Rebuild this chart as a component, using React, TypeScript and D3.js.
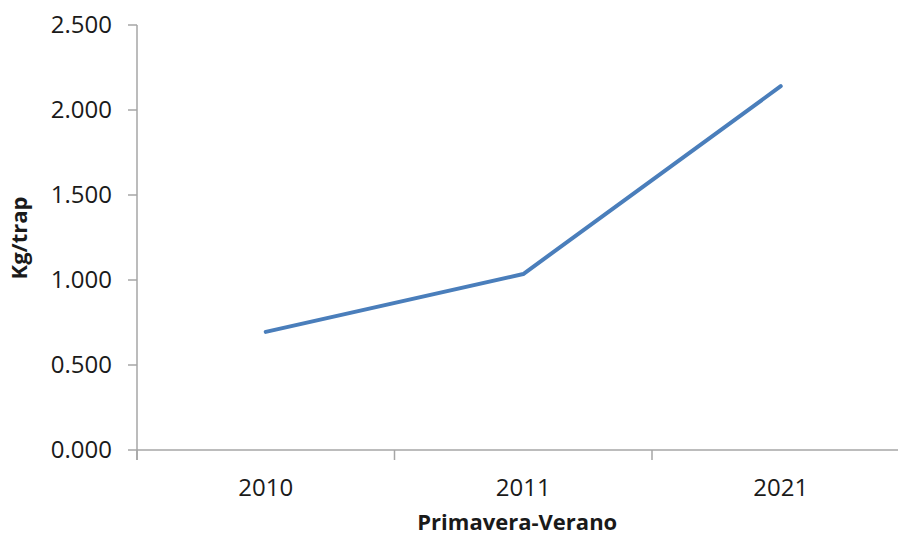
import React from "react";
import * as d3 from "d3";

const categories = ["2010", "2011", "2021"];
const values = [0.695, 1.035, 2.14];
const yTicks = [0, 0.5, 1.0, 1.5, 2.0, 2.5];
const xTitle = "Primavera-Verano";
const yTitle = "Kg/trap";

const W = 898;
const H = 536;
const left = 137;
const bandW = 257.5;
const top = 25;
const bottom = 450;

const fmt = (v: number) => v.toFixed(3);

export default function App() {
  const x = d3
    .scaleBand<string>()
    .domain(categories)
    .range([left, left + bandW * categories.length])
    .padding(0);
  const y = d3.scaleLinear().domain([0, 2.5]).range([bottom, top]);

  const line = d3
    .line<number>()
    .x((_, i) => (x(categories[i]) as number) + x.bandwidth() / 2)
    .y((d) => y(d));

  const axisColor = "#a6a6a6";
  const font = "'Open Sans', sans-serif";
  const boundaries = [...categories.map((c) => x(c) as number), x.range()[1]];
  const plotCenter = (x.range()[0] + x.range()[1]) / 2;

  return (
    <svg
      width={W}
      height={H}
      style={{ position: "absolute", left: 0, top: 0, background: "#fff" }}
    >
      {/* value axis */}
      <line x1={left} x2={left} y1={top} y2={bottom + 10} stroke={axisColor} strokeWidth={1.5} />
      {yTicks.map((t) => (
        <g key={t}>
          <line x1={left - 9} x2={left} y1={y(t)} y2={y(t)} stroke={axisColor} strokeWidth={1.5} />
          <text
            x={112}
            y={y(t)}
            dy="0.35em"
            textAnchor="end"
            fontFamily={font}
            fontSize={24}
            fill="#1a1a1a"
          >
            {fmt(t)}
          </text>
        </g>
      ))}

      {/* category axis */}
      <line x1={left} x2={W} y1={bottom} y2={bottom} stroke={axisColor} strokeWidth={1.5} />
      {boundaries.map((b, i) => (
        <line key={i} x1={b} x2={b} y1={bottom} y2={bottom + 10} stroke={axisColor} strokeWidth={1.5} />
      ))}
      {categories.map((c) => (
        <text
          key={c}
          x={(x(c) as number) + x.bandwidth() / 2}
          y={488}
          dy="0.35em"
          textAnchor="middle"
          fontFamily={font}
          fontSize={24}
          fill="#1a1a1a"
        >
          {c}
        </text>
      ))}

      {/* series */}
      <path
        d={line(values) as string}
        fill="none"
        stroke="#4a7ebb"
        strokeWidth={4}
        strokeLinejoin="round"
        strokeLinecap="round"
      />

      {/* titles */}
      <text
        x={plotCenter - 6}
        y={530}
        textAnchor="middle"
        fontFamily={font}
        fontWeight="bold"
        fontSize={22}
        fill="#1a1a1a"
      >
        {xTitle}
      </text>
      <text
        transform={`translate(19, 238) rotate(-90)`}
        dy="0.35em"
        textAnchor="middle"
        fontFamily={font}
        fontWeight="bold"
        fontSize={22}
        fill="#1a1a1a"
      >
        {yTitle}
      </text>
    </svg>
  );
}
